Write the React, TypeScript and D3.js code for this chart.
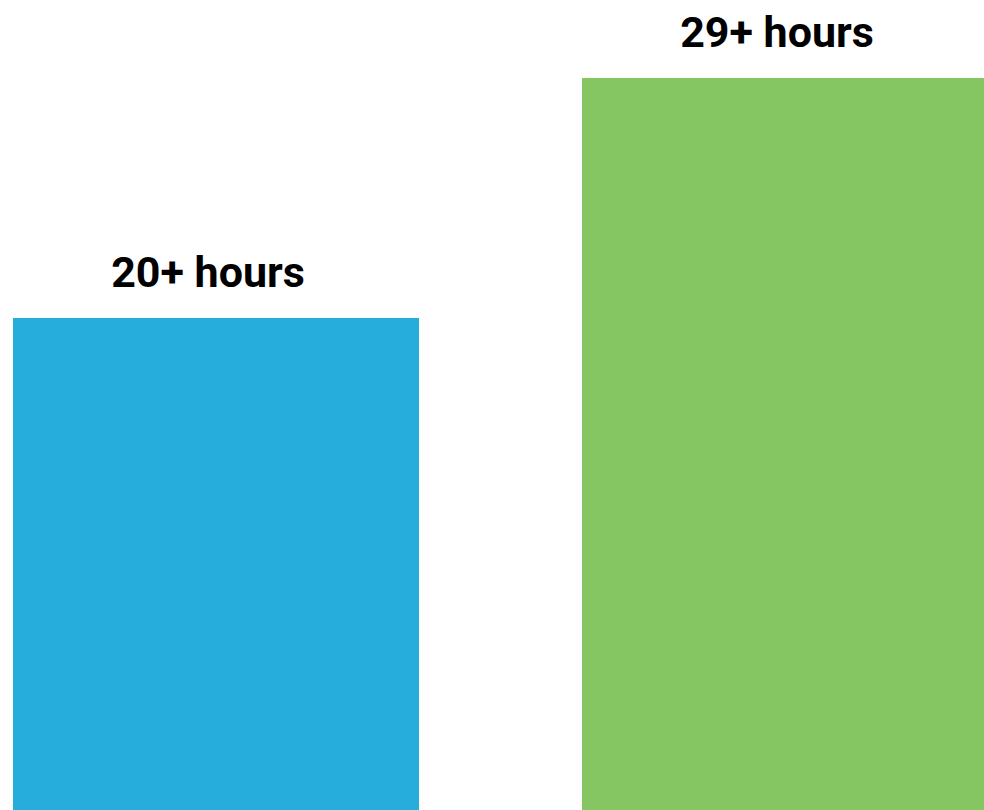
import React from "react";
import * as d3 from "d3";

const categories = ["A", "B"];
const values = [20, 29];
const labels = ["20+ hours", "29+ hours"];
const colors = ["#27ADDB", "#85C662"];

export default function App() {
  const W = 984;
  const H = 810;
  const x = d3.scaleBand<string>().domain(categories).range([13, 988]).paddingInner(0.2865).paddingOuter(0);
  const y = d3.scaleLinear().domain([0, 29]).range([851.3, 78]);
  return (
    <div style={{ position: "fixed", left: 0, top: 0, width: W, height: H, background: "#fff" }}>
      <svg width={W} height={H} style={{ display: "block" }}>
        {categories.map((c, i) => (
          <g key={c}>
            <rect x={x(c)} y={y(values[i])} width={x.bandwidth()} height={y(0) - y(values[i])} fill={colors[i]} />
            <text
              x={(x(c) as number) + x.bandwidth() / 2 - 8}
              y={y(values[i]) - 31}
              textAnchor="middle"
              fontFamily="Roboto"
              fontWeight={700}
              fontSize={43}
              fill="#000"
            >
              {labels[i]}
            </text>
          </g>
        ))}
      </svg>
    </div>
  );
}
